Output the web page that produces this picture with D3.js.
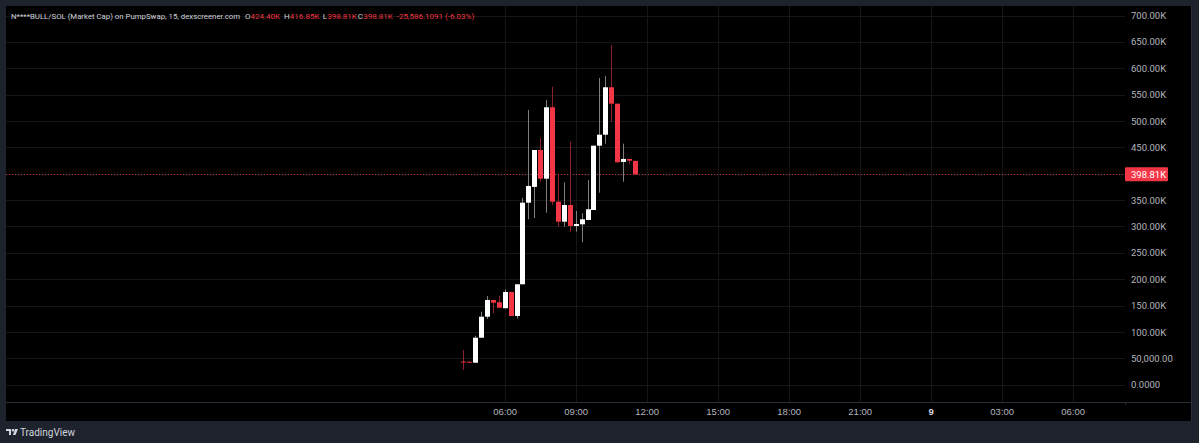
<!DOCTYPE html>
<html>
<head>
<meta charset="utf-8">
<script src="https://cdn.jsdelivr.net/npm/d3@7"></script>
<style>
  html, body { margin: 0; padding: 0; background: #1e222d; }
  svg { display: block; font-family: Roboto, "Noto Sans", sans-serif; }
</style>
</head>
<body>
<div id="chart"></div>
<script>
// 15 minute candles, values in USD market cap (K)
var times = ["04:15","04:30","04:45","05:00","05:15","05:30","05:45","06:00","06:15","06:30",
             "06:45","07:00","07:15","07:30","07:45","08:00","08:15","08:30","08:45","09:00",
             "09:15","09:30","09:45","10:00","10:15","10:30","10:45","11:00","11:15","11:30"];
var opens  = [44.0, 43.5, 41.7, 89.1, 128.9, 160.6, 156.2, 145.0, 175.8, 130.3,
              190.4, 345.1, 375.0, 445.0, 390.6, 526.0, 347.0, 309.1, 340.7, 300.9,
              304.1, 312.3, 331.2, 453.2, 474.0, 563.9, 532.8, 422.3, 428.0, 424.4];
var highs  = [65.8, 43.5, 92.9, 138.4, 168.2, 160.6, 168.2, 180.9, 175.8, 190.4,
              354.6, 520.9, 445.0, 467.2, 539.9, 565.0, 397.6, 383.8, 460.8, 329.3,
              325.0, 388.1, 453.2, 581.5, 585.3, 643.5, 532.8, 457.0, 428.0, 424.4];
var lows   = [28.0, 42.0, 41.7, 89.1, 124.6, 135.4, 146.0, 145.0, 130.3, 125.1,
              190.4, 313.6, 316.1, 384.9, 326.1, 340.7, 299.6, 299.6, 290.1, 290.1,
              270.0, 312.3, 331.2, 364.1, 457.0, 498.7, 421.7, 384.9, 417.9, 398.81];
var closes = [42.5, 42.0, 89.1, 128.9, 160.6, 155.5, 146.0, 175.8, 130.3, 190.4,
              345.1, 376.8, 445.0, 390.6, 526.0, 347.0, 309.1, 340.7, 300.9, 304.7,
              313.6, 332.6, 453.2, 474.0, 563.9, 532.8, 421.7, 428.0, 424.7, 398.81];

var yTicks = [0, 50, 100, 150, 200, 250, 300, 350, 400, 450, 500, 550, 600, 650, 700];
var yTickLabels = ["0.0000", "50,000.00", "100.00K", "150.00K", "200.00K", "250.00K", "300.00K",
                   "350.00K", "400.00K", "450.00K", "500.00K", "550.00K", "600.00K", "650.00K", "700.00K"];
var xTicks = ["2025-06-08T06:00", "2025-06-08T09:00", "2025-06-08T12:00", "2025-06-08T15:00",
              "2025-06-08T18:00", "2025-06-08T21:00", "2025-06-09T00:00", "2025-06-09T03:00",
              "2025-06-09T06:00"];
var xTickLabels = ["06:00", "09:00", "12:00", "15:00", "18:00", "21:00", "9", "03:00", "06:00"];
var lastPrice = 398.81;

var W = 1199, H = 443;
var panel = {left: 6, top: 6, right: 1192, bottom: 421};
var plotRight = 1125, plotBottom = 402;

var parse = d3.timeParse("%Y-%m-%dT%H:%M");
var data = times.map(function (t, i) {
    return {t: parse("2025-06-08T" + t), o: opens[i], h: highs[i], l: lows[i], c: closes[i]};
});

var x = d3.scaleTime()
    .domain([parse("2025-06-08T06:00"), parse("2025-06-08T09:00")])
    .range([504.7, 575.7]);
var y = d3.scaleLinear().domain([0, 700]).range([384.7, 15.5]);

var svg = d3.select("#chart").append("svg").attr("width", W).attr("height", H);

svg.append("rect").attr("width", W).attr("height", H).attr("fill", "#1e222d");
svg.append("rect")
    .attr("x", panel.left).attr("y", panel.top)
    .attr("width", panel.right - panel.left).attr("height", panel.bottom - panel.top)
    .attr("fill", "#000");

// grid
var grid = svg.append("g");
grid.selectAll("line.h").data(yTicks).enter().append("line")
    .attr("x1", panel.left).attr("x2", plotRight)
    .attr("y1", function (d) { return Math.round(y(d)) + 0.5; })
    .attr("y2", function (d) { return Math.round(y(d)) + 0.5; })
    .attr("stroke", "#161616");
grid.selectAll("line.v").data(xTicks).enter().append("line")
    .attr("x1", function (d) { return Math.round(x(parse(d))) + 0.5; })
    .attr("x2", function (d) { return Math.round(x(parse(d))) + 0.5; })
    .attr("y1", panel.top).attr("y2", plotBottom)
    .attr("stroke", "#161616");

// panel borders
svg.append("line").attr("x1", panel.left).attr("x2", panel.right)
    .attr("y1", plotBottom + 0.5).attr("y2", plotBottom + 0.5).attr("stroke", "#2a2e39");
svg.append("line").attr("x1", panel.right - 0.5).attr("x2", panel.right - 0.5)
    .attr("y1", panel.top).attr("y2", panel.bottom).attr("stroke", "#2a2e39");
svg.append("line").attr("x1", plotRight + 0.5).attr("x2", plotRight + 0.5)
    .attr("y1", plotBottom).attr("y2", plotBottom + 3).attr("stroke", "#2a2e39");

// price line
svg.append("line")
    .attr("x1", panel.left).attr("x2", plotRight)
    .attr("y1", Math.round(y(lastPrice)) + 0.5).attr("y2", Math.round(y(lastPrice)) + 0.5)
    .attr("stroke", "#f23645").attr("stroke-dasharray", "1,2").attr("opacity", 0.8);

// candles
var up = function (d) { return d.c >= d.o; };
var candles = svg.append("g").selectAll("g").data(data).enter().append("g");
candles.append("line")
    .attr("x1", function (d) { return Math.round(x(d.t)) + 0.5; })
    .attr("x2", function (d) { return Math.round(x(d.t)) + 0.5; })
    .attr("y1", function (d) { return y(d.h); })
    .attr("y2", function (d) { return y(d.l); })
    .attr("stroke", function (d) { return up(d) ? "#7e7e7e" : "#8f1f2b"; });
candles.append("rect")
    .attr("x", function (d) { return Math.round(x(d.t)) - 2; })
    .attr("width", 5)
    .attr("y", function (d) { return y(Math.max(d.o, d.c)); })
    .attr("height", function (d) { return Math.max(1, Math.abs(y(d.o) - y(d.c))); })
    .attr("fill", function (d) { return up(d) ? "#ffffff" : "#f23645"; });

// price axis
var yAxis = svg.append("g")
    .attr("transform", "translate(" + plotRight + ",0)")
    .call(d3.axisRight(y).tickValues(yTicks).tickSize(0).tickPadding(6)
        .tickFormat(function (d, i) { return yTickLabels[i]; }));
yAxis.select(".domain").remove();
yAxis.selectAll("text").attr("fill", "#b2b5be").attr("font-size", 9.5)
    .attr("font-family", "Roboto, sans-serif");

// last price label
var ly = y(lastPrice);
svg.append("rect").attr("x", plotRight).attr("y", ly - 7).attr("width", 43).attr("height", 14)
    .attr("fill", "#f23645").attr("rx", 1);
svg.append("text").attr("x", plotRight + 6).attr("y", ly).attr("dy", "0.35em")
    .attr("fill", "#fff").attr("font-size", 9.5).text(d3.format(".2f")(lastPrice) + "K");

// time axis
var xAxis = svg.append("g")
    .attr("transform", "translate(0," + plotBottom + ")")
    .call(d3.axisBottom(x).tickValues(xTicks.map(parse)).tickSize(0).tickPadding(6)
        .tickFormat(function (d, i) { return xTickLabels[i]; }));
xAxis.select(".domain").remove();
xAxis.selectAll("text").attr("font-size", 9.5)
    .attr("font-weight", function (d, i) { return xTickLabels[i] === "9" ? "bold" : null; })
    .attr("fill", function (d, i) { return xTickLabels[i] === "9" ? "#d1d4dc" : "#b2b5be"; });

// legend line: [text, colour, x, font size]
var red = "#f23645", grey = "#d1d4dc";
var legendItems = [
    ["N****BULL/SOL (Market Cap) on PumpSwap, 15, dexscreener.com", grey, 11, 7.8],
    ["O", grey, 245, 8], ["424.40K", red, 250.5, 8],
    ["H", grey, 284, 8], ["416.85K", red, 289.8, 8],
    ["L", grey, 322.7, 8], ["398.81K", red, 327.2, 8],
    ["C", grey, 357.7, 8], ["398.81K", red, 363.2, 8],
    ["-25,586.1091 (-6.03%)", red, 396.7, 8]
];
svg.append("g")
    .selectAll("text").data(legendItems).enter().append("text")
    .attr("x", function (d) { return d[2]; })
    .attr("y", 16).attr("dy", "0.35em")
    .attr("font-size", function (d) { return d[3]; })
    .attr("fill", function (d) { return d[1]; })
    .text(function (d) { return d[0]; });

// TradingView mark
var logo = svg.append("g").attr("transform", "translate(6,428)").attr("fill", "#d1d4dc");
logo.append("path").attr("d", "M0 1h5v6h-2v-4h-3z");
logo.append("circle").attr("cx", 7).attr("cy", 2.3).attr("r", 1.3);
logo.append("path").attr("d", "M9 1h3l-2.5 6h-2.6z");
svg.append("text").attr("x", 20).attr("y", 432).attr("dy", "0.35em")
    .attr("font-size", 10).attr("fill", "#d1d4dc").text("TradingView");
</script>
</body>
</html>
